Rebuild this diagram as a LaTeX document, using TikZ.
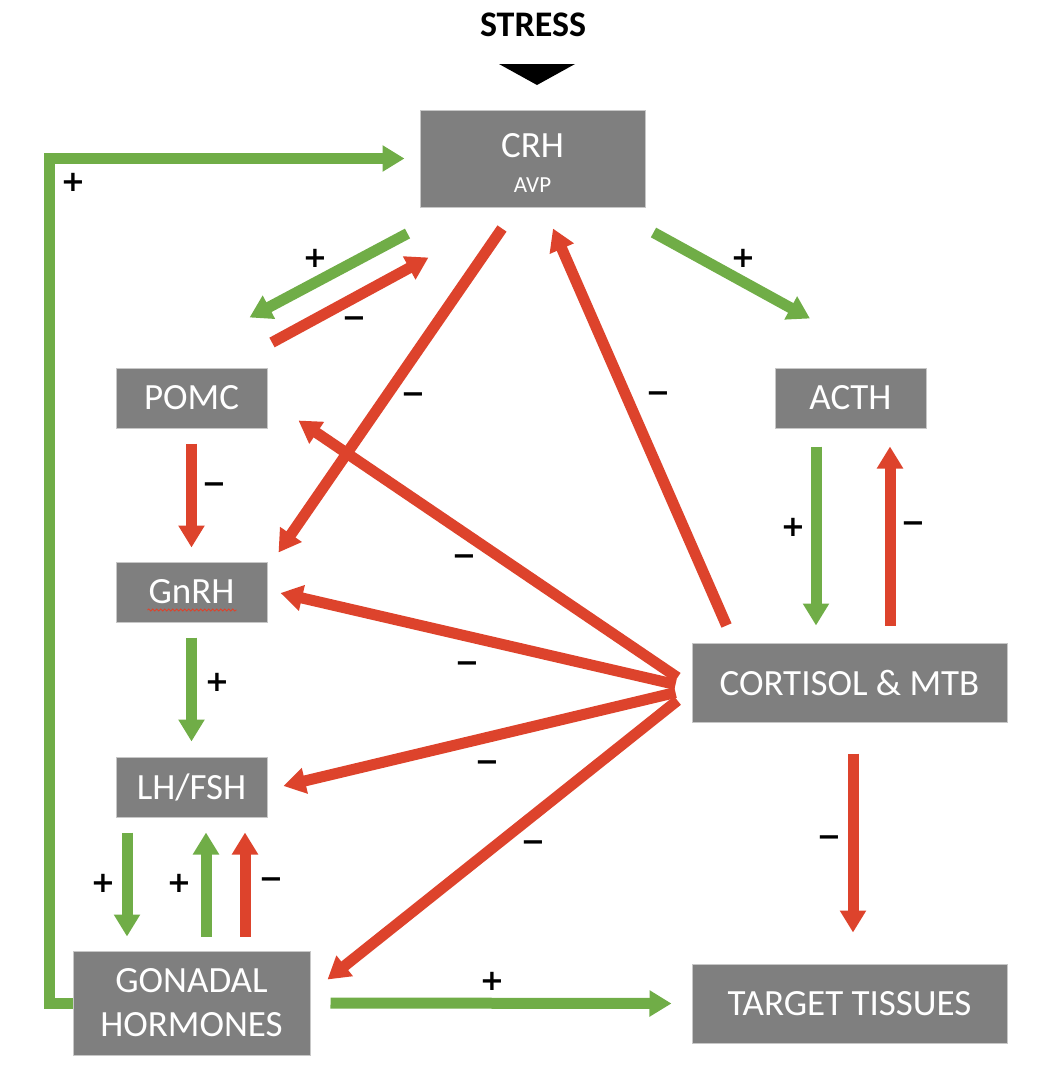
\documentclass[tikz,border=0pt]{standalone}
\usepackage{fontspec}
\setmainfont{Carlito}
\newfontfamily\signfont{DejaVu Sans}[BoldFont={DejaVu Sans Bold}]
\usepackage{tikz}
\usetikzlibrary{arrows.meta}
\usetikzlibrary{decorations.pathmorphing}
\definecolor{boxgray}{RGB}{127,127,127}
\definecolor{posgreen}{RGB}{112,173,71}
\definecolor{negred}{RGB}{221,67,44}

\begin{document}
\begin{tikzpicture}[x=1pt, y=-1pt,
		hormbox/.style={fill=boxgray, draw=black!22, line width=1pt, text=white, font=\fontsize{37}{44}\selectfont, align=center, inner sep=0pt},
		posarrow/.style={posgreen, line width=11pt, -{Triangle[width=25pt,length=22pt]}},
		negarrow/.style={negred, line width=11pt, -{Triangle[width=25pt,length=22pt]}},
		signlabel/.style={font=\signfont\bfseries\fontsize{29}{29}\selectfont, inner sep=0pt}]
			\useasboundingbox (0,0) rectangle (1050,1088);

			\node[font=\fontsize{36}{36}\selectfont\bfseries] (stress) at (533,25){STRESS};
			\fill[black] (499,64) -- (575,64) -- (537,85) -- cycle;

			\node[hormbox, minimum width=225pt, minimum height=97pt] (crh) at (532.5,158.5){};
			\node[text=white, font=\fontsize{37}{37}\selectfont] (crhname) at (532.5,146){CRH};
			\node[text=white, font=\fontsize{23}{23}\selectfont] (avp) at (532.5,185){AVP};

			\node[hormbox, minimum width=151pt, minimum height=60pt] (pomc) at (191.5,398){POMC};
			\node[hormbox, minimum width=151pt, minimum height=60pt] (acth) at (850.5,398){ACTH};
			\node[hormbox, minimum width=151pt, minimum height=60pt] (gnrh) at (191.5,592){GnRH};
			\node[hormbox, minimum width=151pt, minimum height=60pt] (lhfsh) at (191.5,787){LH/FSH};
			\node[hormbox, minimum width=237pt, minimum height=104pt] (gonadal) at (191.5,1003){GONADAL\\HORMONES};
			\node[hormbox, minimum width=315pt, minimum height=79pt] (cort) at (849.5,682.5){CORTISOL \& MTB};
			\node[hormbox, minimum width=315pt, minimum height=79pt] (target) at (849.5,1003.5){TARGET TISSUES};

			\draw[negred, line width=0.8pt, decorate, decoration={snake, amplitude=1.1pt, segment length=4pt}] ([shift={(-44,18)}]gnrh.center) -- ([shift={(45,18)}]gnrh.center);

			\draw[posarrow] (gonadal.west) -- ++(-23,0) |- ([xshift=-15pt]crh.west);
			\node[signlabel] (p1) at (73,182){+};

			\draw[posarrow] ([shift={(-12,26)}]crh.south west) -- ([shift={(58,-50)}]pomc.north);
			\node[signlabel] (p2) at (315,258){+};
			\draw[negarrow] ([shift={(80.5,-25)}]pomc.north) -- ([shift={(9,50)}]crh.south west);
			\node[signlabel] (m1) at (354,322){−};

			\draw[negarrow] ([shift={(-30.5,21)}]crh.south) -- ([shift={(11,-9)}]gnrh.north east);
			\node[signlabel] (m2) at (413,398){−};
			\draw[negarrow] ([shift={(35,-17)}]cort.north west) -- ([shift={(20.5,21)}]crh.south);
			\node[signlabel] (m3) at (658,397){−};

			\draw[posarrow] ([shift={(8,25)}]crh.south east) -- ([shift={(-40.5,-49)}]acth.north);
			\node[signlabel] (p3) at (743,258){+};
			\draw[posarrow] ([shift={(-34.5,18)}]acth.south) -- ([shift={(-33.5,-17)}]cort.north);
			\node[signlabel] (p4) at (793,527){+};
			\draw[negarrow] ([shift={(40.5,-17)}]cort.north) -- ([shift={(39.5,18)}]acth.south);
			\node[signlabel] (m4) at (913,527){−};

			\draw[negarrow] ([shift={(0,15)}]pomc.south) -- ([shift={(0,-14)}]gnrh.north);
			\node[signlabel] (m5) at (214,488){−};
			\draw[posarrow] ([shift={(0,15)}]gnrh.south) -- ([shift={(0,-15)}]lhfsh.north);
			\node[signlabel] (p5) at (217,682){+};

			\draw[posarrow] ([shift={(-64.5,15)}]lhfsh.south) -- ([shift={(-64.5,-14)}]gonadal.north);
			\node[signlabel] (p6) at (103,883){+};
			\draw[posarrow] ([shift={(14.5,-14)}]gonadal.north) -- ([shift={(14.5,15)}]lhfsh.south);
			\node[signlabel] (p7) at (179,883){+};
			\draw[negarrow] ([shift={(53.5,-14)}]gonadal.north) -- ([shift={(53.5,15)}]lhfsh.south);
			\node[signlabel] (m6) at (271,883){−};

			\draw[negarrow] ([shift={(-14,-5)}]cort.west) -- ([shift={(31,-8)}]pomc.south east);
			\node[signlabel] (m7) at (464,560){−};
			\draw[negarrow] ([shift={(-16,2)}]cort.west) -- ([shift={(13,1)}]gnrh.east);
			\node[signlabel] (m8) at (467,667){−};
			\draw[negarrow] ([shift={(-16,10)}]cort.west) -- ([shift={(16,-1)}]lhfsh.east);
			\node[signlabel] (m9) at (487,766){−};
			\draw[negarrow] ([shift={(-14,18)}]cort.west) -- ([shift={(17,29)}]gonadal.north east);
			\node[signlabel] (m10) at (533,846){−};

			\draw[negarrow] ([shift={(3.5,31)}]cort.south) -- ([shift={(3.5,-31)}]target.north);
			\node[signlabel] (m11) at (829,841){−};

			\draw[posarrow] ([xshift=20pt]gonadal.east) -- ([xshift=-20pt]target.west);
			\node[signlabel] (p8) at (492,981){+};
		\end{tikzpicture}
\end{document}
